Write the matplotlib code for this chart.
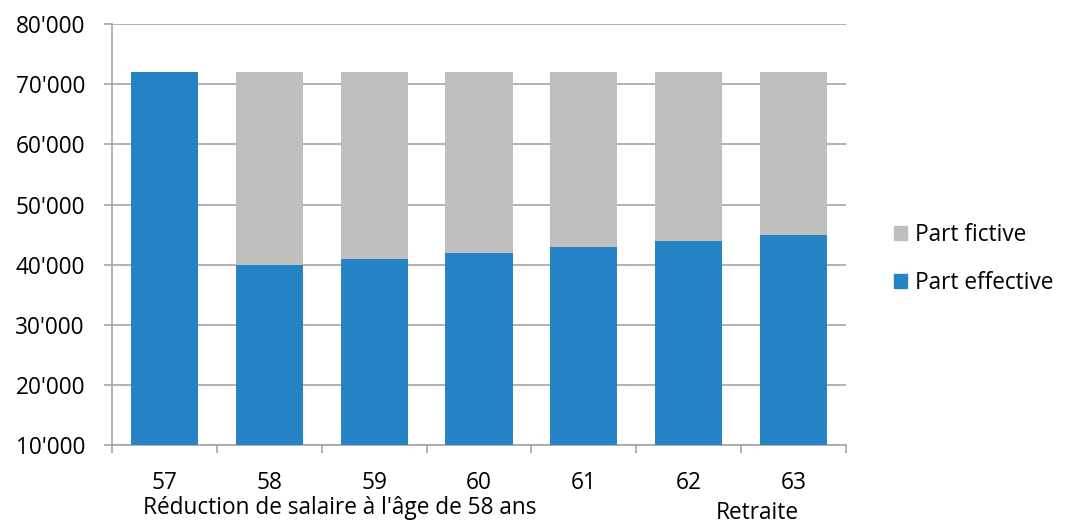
import matplotlib.pyplot as plt
from matplotlib.ticker import FuncFormatter, FixedLocator
from matplotlib.patches import Patch

# === Données ===
ages = ["57", "58", "59", "60", "61", "62", "63"]
part_effective = [72000, 40000, 41000, 42000, 43000, 44000, 45000]
part_fictive = [0, 32000, 31000, 30000, 29000, 28000, 27000]

bleu = "#2683C6"
gris = "#BFBFBF"
ligne = "#A6A6A6"

plt.rcParams['font.family'] = ['Open Sans', 'DejaVu Sans']
fs = 16.3

fig = plt.figure(figsize=(10.75, 5.25), dpi=100)
ax = fig.add_axes([0.1042, 0.1524, 0.6828, 0.8016])

x = range(len(ages))
ax.bar(x, part_effective, width=0.64, color=bleu, zorder=3)
ax.bar(x, part_fictive, width=0.64, bottom=part_effective, color=gris, zorder=3)

ax.set_ylim(10000, 80000)
ax.set_xlim(-0.5, len(ages) - 0.5)
ax.set_yticks(range(10000, 80001, 10000))
ax.yaxis.set_major_formatter(FuncFormatter(lambda v, p: f"{int(v):,}".replace(",", "'")))
ax.grid(axis='y', color=ligne, linewidth=1.2, zorder=0)

ax.set_xticks(list(x))
ax.set_xticklabels(ages)
ax.xaxis.set_minor_locator(FixedLocator([i - 0.5 for i in range(len(ages) + 1)]))
ax.tick_params(axis='x', which='major', length=0, pad=19, labelsize=fs)
ax.tick_params(axis='x', which='minor', length=6, color=ligne, width=1.2)
ax.tick_params(axis='y', length=6, color=ligne, width=1.2, labelsize=fs, pad=13.5)

for s in ['top', 'right']:
    ax.spines[s].set_visible(False)
for s in ['left', 'bottom']:
    ax.spines[s].set_color(ligne)
    ax.spines[s].set_linewidth(1.2)

fig.text(340 / 1075, 1 - 508 / 525, "Réduction de salaire à l'âge de 58 ans",
         fontsize=fs, ha='center', va='center')
fig.text(757 / 1075, 1 - 513 / 525, "Retraite", fontsize=fs, ha='center', va='center')

handles = [Patch(color=gris, label="Part fictive"), Patch(color=bleu, label="Part effective")]
fig.legend(handles=handles, loc='center left', bbox_to_anchor=(0.813, 0.507),
           frameon=False, fontsize=fs, handlelength=0.55, handleheight=0.55,
           handletextpad=0.35, labelspacing=1.05)

fig.savefig("out.png", dpi=100)
